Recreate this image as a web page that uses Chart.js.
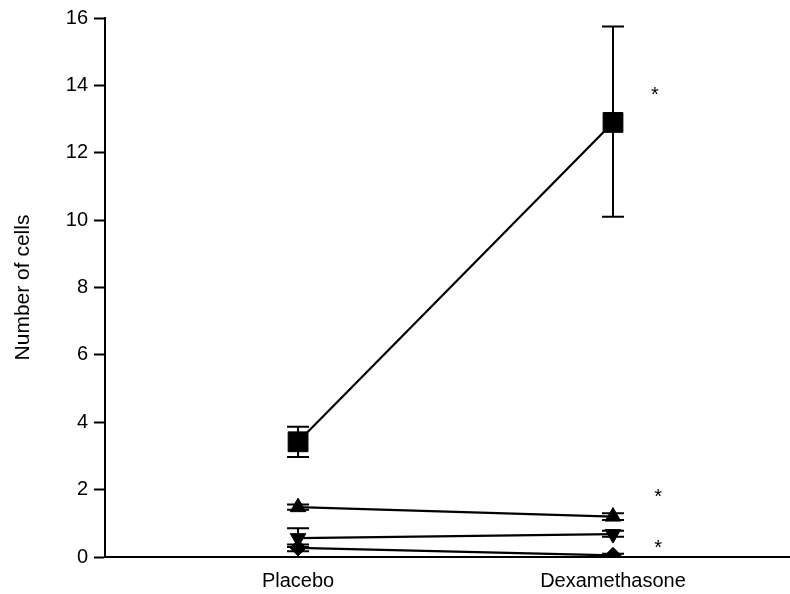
<!DOCTYPE html>
<html>
<head>
<meta charset="utf-8">
<script src="https://cdn.jsdelivr.net/npm/chart.js@4/dist/chart.umd.min.js"></script>
<style>
  html, body { margin: 0; padding: 0; background: #fff; }
  #wrap { width: 790px; height: 594px; }
</style>
</head>
<body>
<div id="wrap"><canvas id="chart" width="790" height="594"></canvas></div>
<script>
// groups on the x axis (1 = Placebo, 2 = Dexamethasone)
const groups = ['Placebo', 'Dexamethasone'];
const groupPos = [1, 2];

// cell counts per marker series
const squareVals = [3.42, 12.9];
const squareLo = [2.97, 10.1];
const squareHi = [3.87, 15.75];

const triUpVals = [1.48, 1.2];
const triUpLo = [1.4, 1.1];
const triUpHi = [1.56, 1.3];

const triDownVals = [0.56, 0.68];
const triDownLo = [0.3, 0.6];
const triDownHi = [0.85, 0.78];

const diamondVals = [0.27, 0.05];
const diamondLo = [0.17, 0.0];
const diamondHi = [0.37, 0.1];

// significance marks
const starX = [2.133, 2.143, 2.143];
const starY = [13.86, 1.93, 0.42];

const FONT = 'Liberation Sans, Arial, Helvetica, sans-serif';

function series(vals, lo, hi, style, radius, rotation) {
    return {
        data: vals.map((v, i) => ({ x: groupPos[i], y: v })),
        errLo: lo,
        errHi: hi,
        borderColor: '#000',
        backgroundColor: '#000',
        borderWidth: 2.2,
        pointStyle: style,
        pointRadius: radius,
        pointRotation: rotation || 0,
        pointBorderWidth: 1,
        showLine: true,
        tension: 0
    };
}

const errorBars = {
    id: 'errorBars',
    afterDatasetsDraw(chart) {
        const ctx = chart.ctx;
        const xs = chart.scales.x, ys = chart.scales.y;
        ctx.save();
        ctx.strokeStyle = '#000';
        ctx.lineWidth = 2;
        chart.data.datasets.forEach(ds => {
            if (!ds.errLo) return;
            ds.data.forEach((p, i) => {
                const x = xs.getPixelForValue(p.x);
                const yl = ys.getPixelForValue(ds.errLo[i]);
                const yh = ys.getPixelForValue(ds.errHi[i]);
                ctx.beginPath();
                ctx.moveTo(x, yl); ctx.lineTo(x, yh);
                ctx.moveTo(x - 11, yl); ctx.lineTo(x + 11, yl);
                ctx.moveTo(x - 11, yh); ctx.lineTo(x + 11, yh);
                ctx.stroke();
            });
        });
        ctx.restore();
    }
};

const stars = {
    id: 'stars',
    afterDraw(chart) {
        const ctx = chart.ctx;
        const xs = chart.scales.x, ys = chart.scales.y;
        ctx.save();
        ctx.fillStyle = '#000';
        ctx.font = '20px ' + FONT;
        ctx.textAlign = 'center';
        ctx.textBaseline = 'alphabetic';
        starX.forEach((sx, i) => {
            ctx.fillText('*', xs.getPixelForValue(sx), ys.getPixelForValue(starY[i]) + 11);
        });
        ctx.restore();
    }
};

new Chart(document.getElementById('chart'), {
    type: 'scatter',
    data: {
        datasets: [
            series(squareVals, squareLo, squareHi, 'rect', 14),
            series(triUpVals, triUpLo, triUpHi, 'triangle', 9),
            series(triDownVals, triDownLo, triDownHi, 'triangle', 9, 180),
            series(diamondVals, diamondLo, diamondHi, 'rectRot', 8)
        ]
    },
    options: {
        responsive: false,
        animation: false,
        layout: {
            autoPadding: false,
            padding: { top: 18, left: 0, right: 0, bottom: 0 }
        },
        plugins: {
            legend: { display: false },
            tooltip: { enabled: false }
        },
        scales: {
            x: {
                type: 'linear',
                min: 0.387,
                max: 2.562,
                afterBuildTicks: (scale) => { scale.ticks = groupPos.map(v => ({ value: v })); },
                afterFit: (scale) => {
                    scale.height = 37;
                    scale.paddingLeft = 0;
                    scale.paddingRight = 0;
                },
                ticks: {
                    color: '#000',
                    font: { family: FONT, size: 20 },
                    padding: 4,
                    callback: (v) => groups[groupPos.indexOf(v)]
                },
                grid: { display: false },
                border: { display: true, color: '#000', width: 2 }
            },
            y: {
                min: 0,
                max: 16,
                afterFit: (scale) => { scale.width = 105; },
                ticks: {
                    stepSize: 2,
                    color: '#000',
                    font: { family: FONT, size: 20 },
                    padding: 6
                },
                grid: {
                    drawOnChartArea: false,
                    drawTicks: true,
                    tickLength: 11,
                    tickWidth: 2,
                    tickColor: '#000'
                },
                border: { display: true, color: '#000', width: 2 },
                title: {
                    display: true,
                    text: 'Number of cells',
                    color: '#000',
                    font: { family: FONT, size: 21 },
                    padding: { top: 11, bottom: 0 }
                }
            }
        }
    },
    plugins: [errorBars, stars]
});
</script>
</body>
</html>
